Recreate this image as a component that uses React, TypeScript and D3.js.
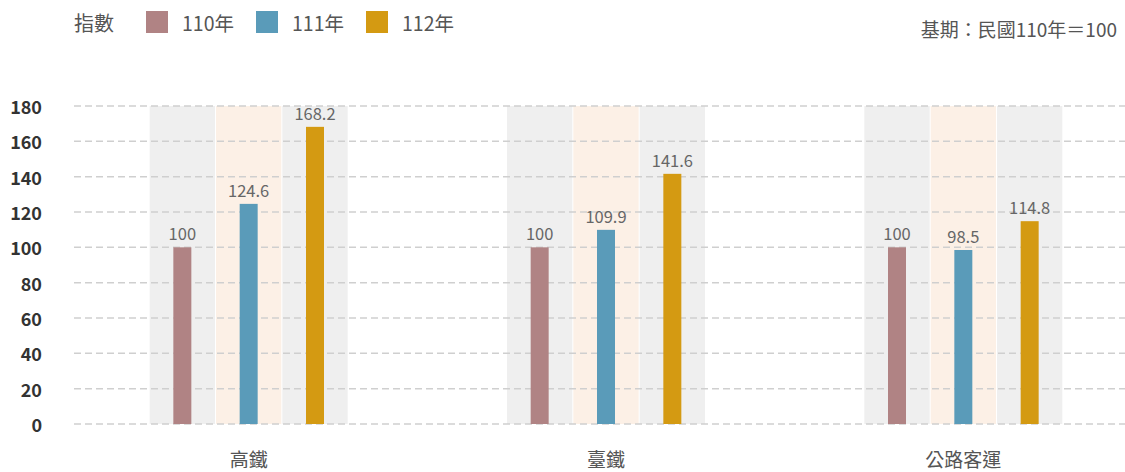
import { useEffect, useRef } from 'react';
import * as d3 from 'd3';

const categories = ['高鐵', '臺鐵', '公路客運'];
const seriesNames = ['110年', '111年', '112年'];
const seriesColors = ['#b08384', '#5a9bb9', '#d49a12'];
const bandColors = ['#efefef', '#fcf0e6', '#efefef'];
const values110 = [100, 100, 100];
const values111 = [124.6, 109.9, 98.5];
const values112 = [168.2, 141.6, 114.8];
const yTicks = [0, 20, 40, 60, 80, 100, 120, 140, 160, 180];

const FONT = '"Noto Sans CJK TC", "Noto Sans", sans-serif';

export default function App() {
  const svgRef = useRef<SVGSVGElement>(null);
  const width = 1125;
  const height = 472;

  useEffect(() => {
    if (!svgRef.current) return;
    const svg = d3.select(svgRef.current);
    svg.selectAll('*').remove();

    const series = [values110, values111, values112];

    const y = d3.scaleLinear().domain([0, 180]).range([424, 106]);
    const x = d3.scaleBand<string>().domain(categories).range([70, 1142]);
    const groupWidth = 198;
    const inner = d3.scaleBand<string>()
      .domain(seriesNames)
      .range([-groupWidth / 2, groupWidth / 2])
      .paddingInner(0.015);

    // background bands
    categories.forEach(cat => {
      const cx = x(cat)! + x.bandwidth() / 2;
      seriesNames.forEach((s, j) => {
        svg.append('rect')
          .attr('x', cx + inner(s)!)
          .attr('y', y(180))
          .attr('width', inner.bandwidth())
          .attr('height', y(0) - y(180))
          .attr('fill', bandColors[j]);
      });
    });

    // grid lines
    yTicks.forEach(t => {
      svg.append('line')
        .attr('x1', 74)
        .attr('x2', width)
        .attr('y1', y(t))
        .attr('y2', y(t))
        .attr('stroke', '#cfcfcf')
        .attr('stroke-width', 1.5)
        .attr('stroke-dasharray', '7,4');

      svg.append('text')
        .attr('x', 42)
        .attr('y', y(t))
        .attr('text-anchor', 'end')
        .attr('dominant-baseline', 'central')
        .attr('font-family', FONT)
        .attr('font-weight', 'bold')
        .attr('font-size', 18)
        .attr('fill', '#333')
        .text(t);
    });

    // bars and value labels
    const barW = 18;
    categories.forEach((cat, i) => {
      const cx = x(cat)! + x.bandwidth() / 2;
      seriesNames.forEach((s, j) => {
        const v = series[j][i];
        const bx = cx + inner(s)! + inner.bandwidth() / 2;
        svg.append('rect')
          .attr('x', bx - barW / 2)
          .attr('y', y(v))
          .attr('width', barW)
          .attr('height', y(0) - y(v))
          .attr('fill', seriesColors[j]);
        svg.append('text')
          .attr('x', bx)
          .attr('y', y(v) - 7)
          .attr('text-anchor', 'middle')
          .attr('font-family', FONT)
          .attr('font-size', 16.5)
          .attr('fill', '#666')
          .text(v);
      });

      svg.append('text')
        .attr('x', cx)
        .attr('y', 458)
        .attr('text-anchor', 'middle')
        .attr('dominant-baseline', 'central')
        .attr('font-family', FONT)
        .attr('font-size', 19)
        .attr('fill', '#555')
        .text(cat);
    });

    // legend
    const legend = svg.append('g');
    legend.append('text')
      .attr('x', 74)
      .attr('y', 22)
      .attr('dominant-baseline', 'central')
      .attr('font-family', FONT)
      .attr('font-size', 20)
      .attr('fill', '#555')
      .text('指數');
    const legendX = [146, 256, 366];
    seriesNames.forEach((s, j) => {
      legend.append('rect')
        .attr('x', legendX[j])
        .attr('y', 11)
        .attr('width', 22)
        .attr('height', 22)
        .attr('fill', seriesColors[j]);
      legend.append('text')
        .attr('x', legendX[j] + 36)
        .attr('y', 22)
        .attr('dominant-baseline', 'central')
        .attr('font-family', FONT)
        .attr('font-size', 19.5)
        .attr('fill', '#555')
        .text(s);
    });

    svg.append('text')
      .attr('x', 1117)
      .attr('y', 28)
      .attr('text-anchor', 'end')
      .attr('dominant-baseline', 'central')
      .attr('font-family', FONT)
      .attr('font-size', 19)
      .attr('fill', '#555')
      .text('基期：民國110年＝100');
  }, []);

  return (
    <svg
      ref={svgRef}
      width={width}
      height={height}
      style={{ position: 'absolute', left: 0, top: 0, background: '#fff' }}
    />
  );
}
